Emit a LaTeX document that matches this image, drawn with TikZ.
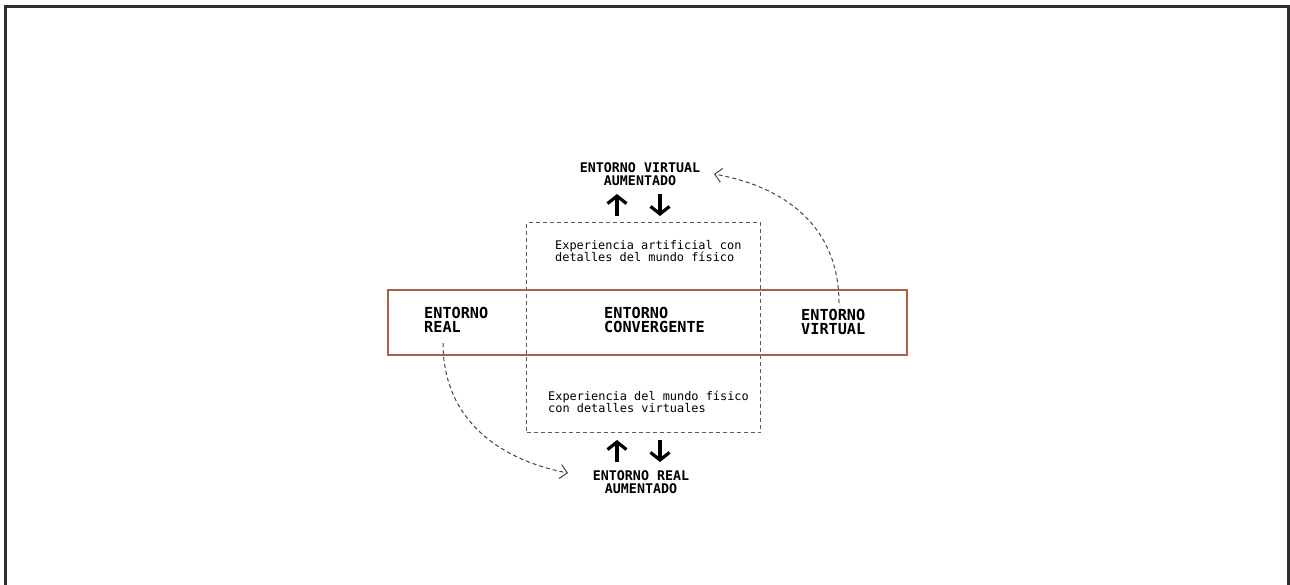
\documentclass[tikz,border=0pt]{standalone}
\usepackage{fontspec}
\setmonofont{DejaVu Sans Mono}
\usetikzlibrary{arrows.meta}
\definecolor{brownline}{HTML}{A5634B}
\definecolor{framecol}{HTML}{2E2E2E}
\definecolor{dashgray}{HTML}{5A5A5A}
\definecolor{curvegray}{HTML}{444444}
\tikzset{
  bigtxt/.style={font=\ttfamily\bfseries\fontsize{15.2}{14}\selectfont, align=left, inner sep=0pt, anchor=west},
  toptxt/.style={font=\ttfamily\bfseries\fontsize{13.3}{13}\selectfont, align=center, inner sep=0pt},
  smalltxt/.style={font=\ttfamily\fontsize{11.9}{12}\selectfont, align=left, inner sep=0pt, anchor=west},
  bigarrow/.style={line width=3.2pt, -{Straight Barb[length=7.5pt,width=19pt]}},
  curvearrow/.style={curvegray, line width=1pt, dash pattern=on 4pt off 3pt, -{Straight Barb[length=7pt,width=14pt]}},
  bandbox/.style={draw=brownline, line width=2pt, minimum width=519pt, minimum height=65pt, inner sep=0pt, anchor=north west},
  dashbox/.style={draw=dashgray, line width=1pt, dash pattern=on 4pt off 3pt, minimum width=234pt, minimum height=210pt, inner sep=0pt, anchor=north west}
}
\begin{document}
\begin{tikzpicture}[x=1pt,y=-1pt]
\useasboundingbox (0,0) rectangle (1290,584);
\fill[white] (0,0) rectangle (1290,584);
\draw[framecol, line width=3pt] (5.5,590) -- (5.5,6.5) -- (1288.5,6.5) -- (1288.5,590);

\node[dashbox] (conv) at (526,222) {};
\node[bandbox] (band) at (387,289) {};

\node[toptxt] (tva) at (640,174.5) {ENTORNO VIRTUAL\\AUMENTADO};
\node[toptxt] (tra) at (641,482.5) {ENTORNO REAL\\AUMENTADO};

\node[bigtxt] (real) at (424,320) {ENTORNO\\REAL};
\node[bigtxt] (cvg) at (604,320) {ENTORNO\\CONVERGENTE};
\node[bigtxt] (virt) at (801,322) {ENTORNO\\VIRTUAL};

\node[smalltxt] (exa) at (555,251) {Experiencia artificial con\\detalles del mundo físico};
\node[smalltxt] (exb) at (548,402) {Experiencia del mundo físico\\con detalles virtuales};

\coordinate (u1s) at (617,216); \coordinate (u1e) at (617,194);
\coordinate (d1s) at (660,194); \coordinate (d1e) at (660,216);
\coordinate (u2s) at (617,462); \coordinate (u2e) at (617,440);
\coordinate (d2s) at (660,440); \coordinate (d2e) at (660,462);
\draw[bigarrow] (u1s) -- (u1e);
\draw[bigarrow] (d1s) -- (d1e);
\draw[bigarrow] (u2s) -- (u2e);
\draw[bigarrow] (d2s) -- (d2e);

\coordinate (rs) at (443,343); \coordinate (re) at (568,473);
\coordinate (vs) at (839,303); \coordinate (ve) at (714,174);
\draw[curvearrow] (rs) .. controls (443,420) and (500,460) .. (re);
\draw[curvearrow] (vs) .. controls (839,232) and (792,188) .. (ve);
\end{tikzpicture}
\end{document}
